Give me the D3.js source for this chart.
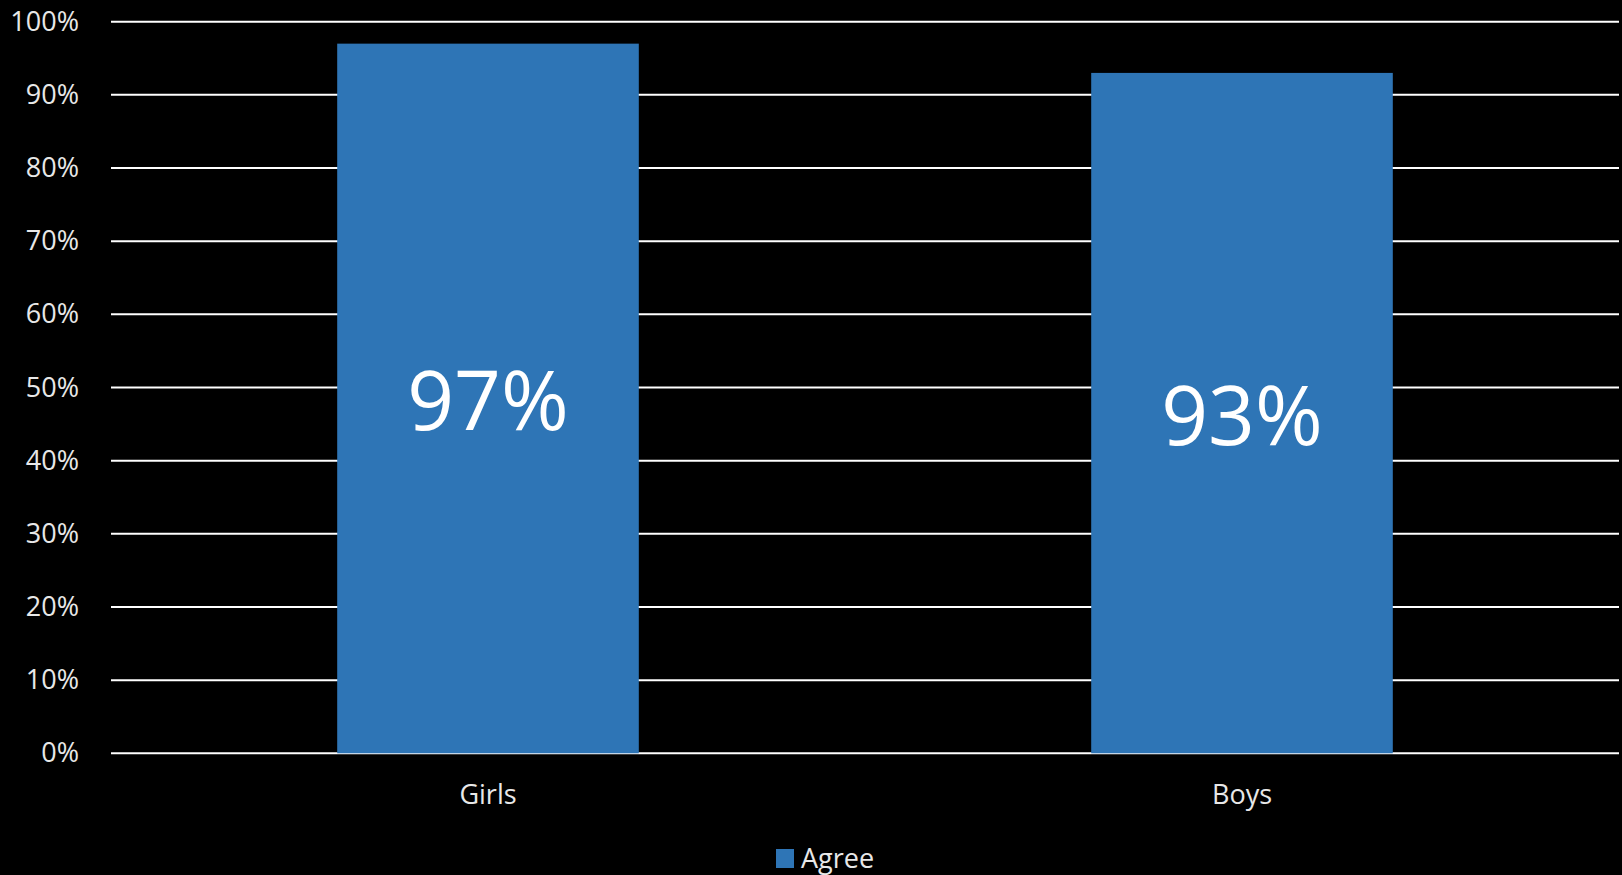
<!DOCTYPE html>
<html>
<head>
<meta charset="utf-8">
<script src="https://cdn.jsdelivr.net/npm/d3@7"></script>
<style>
  html, body { margin: 0; padding: 0; background: #000; }
  svg { display: block; }
  text { font-family: "Open Sans", "Noto Sans", sans-serif; }
</style>
</head>
<body>
<svg id="chart" width="1622" height="875"></svg>
<script>
// Share of respondents who agree, by group
const categories = ["Girls", "Boys"];
const agreeValues = [0.97, 0.93];
const tickValues = [0, 0.1, 0.2, 0.3, 0.4, 0.5, 0.6, 0.7, 0.8, 0.9, 1.0];
const seriesName = "Agree";

const W = 1622, H = 875;
const margin = { left: 111, right: 3, top: 21.7, bottom: 121.7 };
const barColor = "#2E75B6";

const svg = d3.select("#chart");
svg.append("rect").attr("width", W).attr("height", H).attr("fill", "#000");

const x = d3.scaleBand()
  .domain(categories)
  .range([margin.left, W - margin.right])
  .paddingInner(0.6)
  .paddingOuter(0.3);

const y = d3.scaleLinear()
  .domain([0, 1])
  .range([H - margin.bottom, margin.top]);

// Horizontal gridlines
svg.append("g")
  .selectAll("line")
  .data(tickValues)
  .join("line")
  .attr("x1", margin.left)
  .attr("x2", W - margin.right)
  .attr("y1", d => y(d))
  .attr("y2", d => y(d))
  .attr("stroke", "#fff")
  .attr("stroke-width", 2);

// Y axis labels
const yAxis = d3.axisLeft(y)
  .tickValues(tickValues)
  .tickFormat(d3.format(".0%"))
  .tickSize(0)
  .tickPadding(0);
const yg = svg.append("g")
  .attr("transform", `translate(${margin.left - 32},0)`)
  .call(yAxis);
yg.select(".domain").remove();
yg.selectAll("text")
  .attr("fill", "#e8e8e8")
  .style("font-size", "27px");

// Bars
svg.append("g")
  .selectAll("rect")
  .data(categories.map((c, i) => ({ c, v: agreeValues[i] })))
  .join("rect")
  .attr("x", d => x(d.c))
  .attr("y", d => y(d.v))
  .attr("width", x.bandwidth())
  .attr("height", d => y(0) - y(d.v))
  .attr("fill", barColor);

// Value labels centered in each bar
svg.append("g")
  .selectAll("text")
  .data(categories.map((c, i) => ({ c, v: agreeValues[i] })))
  .join("text")
  .attr("x", d => x(d.c) + x.bandwidth() / 2)
  .attr("y", d => (y(d.v) + y(0)) / 2)
  .attr("text-anchor", "middle")
  .attr("dominant-baseline", "central")
  .attr("fill", "#fff")
  .style("font-size", "82px")
  .text(d => d3.format(".0%")(d.v));

// X axis category labels
const xAxis = d3.axisBottom(x).tickSize(0).tickPadding(0);
const xg = svg.append("g")
  .attr("transform", `translate(0,${y(0) + 32})`)
  .call(xAxis);
xg.select(".domain").remove();
xg.selectAll("text")
  .attr("fill", "#e8e8e8")
  .style("font-size", "27px");

// Legend
const legend = svg.append("g").attr("transform", "translate(776,849)");
legend.append("rect").attr("width", 18).attr("height", 19).attr("fill", barColor);
legend.append("text")
  .attr("x", 25)
  .attr("y", 19)
  .attr("fill", "#e8e8e8")
  .style("font-size", "27px")
  .text(seriesName);
</script>
</body>
</html>
